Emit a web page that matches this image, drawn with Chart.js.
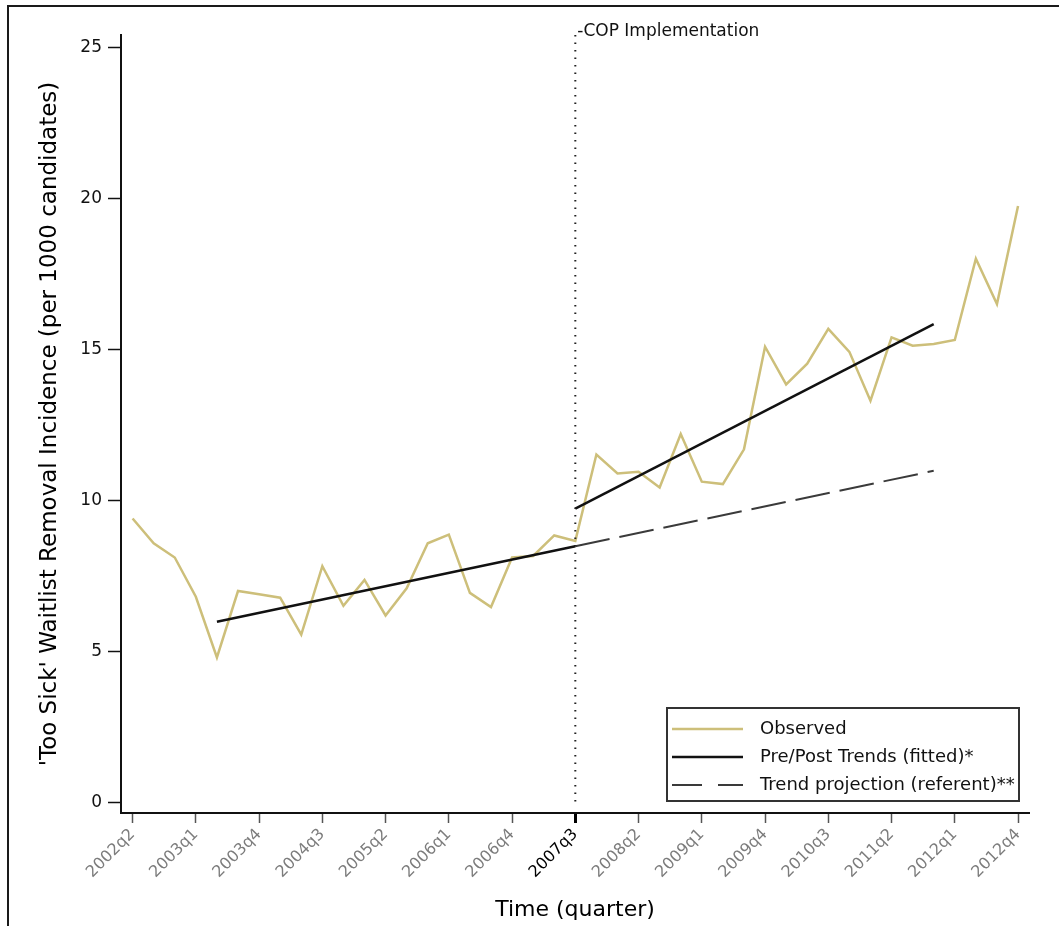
<!DOCTYPE html>
<html>
<head>
<meta charset="utf-8">
<script src="https://cdn.jsdelivr.net/npm/chart.js@4.4.1/dist/chart.umd.min.js"></script>
<style>
  html, body { margin: 0; padding: 0; background: #fff; }
  #wrap { position: relative; width: 1059px; height: 926px; overflow: hidden; }
  #frame { position: absolute; left: 7px; top: 5px; right: 0; bottom: 0;
           border-top: 2px solid #1a1a1a; border-left: 2px solid #1a1a1a; pointer-events: none; }
  canvas { position: absolute; left: 0; top: 0; }
</style>
</head>
<body>
<div id="wrap">
  <canvas id="c" width="1059" height="926"></canvas>
  <div id="frame"></div>
</div>
<script>
// Quarter categories (x index 0..42)
const quarters = [
  '2002q2','2002q3','2002q4','2003q1','2003q2','2003q3','2003q4','2004q1','2004q2','2004q3',
  '2004q4','2005q1','2005q2','2005q3','2005q4','2006q1','2006q2','2006q3','2006q4','2007q1',
  '2007q2','2007q3','2007q4','2008q1','2008q2','2008q3','2008q4','2009q1','2009q2','2009q3',
  '2009q4','2010q1','2010q2','2010q3','2010q4','2011q1','2011q2','2011q3','2011q4','2012q1',
  '2012q2','2012q3','2012q4'
];

// Observed 'too sick' removal incidence per 1000 candidates
const observed = [
  9.39, 8.57, 8.10, 6.80, 4.79, 6.99, 6.88, 6.77, 5.55, 7.81,
  6.50, 7.36, 6.18, 7.08, 8.57, 8.86, 6.93, 6.46, 8.10, 8.15,
  8.83, 8.65, 11.51, 10.88, 10.94, 10.42, 12.19, 10.61, 10.53, 11.68,
  15.08, 13.83, 14.52, 15.67, 14.91, 13.29, 15.39, 15.11, 15.17, 15.30,
  17.99, 16.49, 19.74
];

// Fitted segments (quarter index, value)
const preTrendQ = [4, 21];
const preTrend = [5.97, 8.47];
const postTrendQ = [21, 38];
const postTrend = [9.72, 15.83];
const projectionQ = [21, 38];
const projection = [8.47, 10.97];

// Axis ticks
const xTickIdx = [0, 3, 6, 9, 12, 15, 18, 21, 24, 27, 30, 33, 36, 39, 42];
const yTicks = [0, 5, 10, 15, 20, 25];
const copQuarter = '2007q3';

const FONT = "'DejaVu Sans', sans-serif";
Chart.defaults.font.family = FONT;

const pts = (qs, vs) => qs.map((q, i) => ({ x: q, y: vs[i] }));
const isCop = ctx => ctx.tick && quarters[ctx.tick.value] === copQuarter;

const overlay = {
  id: 'overlay',
  afterDatasetsDraw(chart) {
    const { ctx, chartArea, scales: { x } } = chart;
    const xp = x.getPixelForValue(quarters.indexOf(copQuarter));
    ctx.save();
    // policy marker
    ctx.strokeStyle = '#222';
    ctx.lineWidth = 2;
    ctx.setLineDash([1.5, 6]);
    ctx.beginPath();
    ctx.moveTo(xp, chartArea.top);
    ctx.lineTo(xp, chartArea.bottom - 6);
    ctx.stroke();
    ctx.setLineDash([]);
    ctx.font = '17px ' + FONT;
    ctx.fillStyle = '#111';
    ctx.textAlign = 'left';
    ctx.textBaseline = 'middle';
    ctx.fillText('-COP Implementation', xp + 2, 32);

    // legend box
    const bx = 667, by = 708, bw = 352, bh = 93;
    ctx.fillStyle = '#fff';
    ctx.fillRect(bx, by, bw, bh);
    ctx.strokeStyle = '#333';
    ctx.lineWidth = 2;
    ctx.strokeRect(bx, by, bw, bh);
    const seen = new Set();
    const items = chart.data.datasets.filter(d => !seen.has(d.label) && seen.add(d.label));
    ctx.font = '18px ' + FONT;
    items.forEach((d, i) => {
      const y = 729 + i * 28;
      ctx.strokeStyle = d.borderColor;
      ctx.lineWidth = d.borderWidth;
      ctx.setLineDash(d.borderDash && d.borderDash.length ? [30, 16] : []);
      ctx.beginPath();
      ctx.moveTo(672, y);
      ctx.lineTo(743, y);
      ctx.stroke();
      ctx.setLineDash([]);
      ctx.fillStyle = '#111';
      ctx.fillText(d.label, 760, y);
    });
    ctx.restore();
  }
};

new Chart(document.getElementById('c'), {
  type: 'line',
  data: {
    datasets: [
      { label: 'Observed', data: pts(quarters.map((q, i) => i), observed),
        borderColor: '#cdbf7a', borderWidth: 2.5, order: 3 },
      { label: 'Pre/Post Trends (fitted)*', data: pts(preTrendQ, preTrend),
        borderColor: '#111', borderWidth: 2.5, order: 1 },
      { label: 'Pre/Post Trends (fitted)*', data: pts(postTrendQ, postTrend),
        borderColor: '#111', borderWidth: 2.5, order: 1 },
      { label: 'Trend projection (referent)**', data: pts(projectionQ, projection),
        borderColor: '#3a3a3a', borderWidth: 2, borderDash: [35, 10], order: 2 }
    ]
  },
  options: {
    responsive: false,
    animation: false,
    events: [],
    layout: { padding: { top: 35, right: 30, bottom: 0, left: 0 } },
    elements: { point: { radius: 0 }, line: { tension: 0, fill: false } },
    plugins: { legend: { display: false }, tooltip: { enabled: false } },
    scales: {
      x: {
        type: 'linear',
        min: -0.55,
        max: 42.52,
        afterBuildTicks: s => { s.ticks = xTickIdx.map(v => ({ value: v })); },
        afterFit: s => { s.height = 113; },
        border: { display: true, color: '#111', width: 2 },
        grid: {
          drawOnChartArea: false,
          tickLength: 10,
          tickColor: ctx => isCop(ctx) ? '#000' : '#555',
          tickWidth: ctx => isCop(ctx) ? 3 : 1.5
        },
        ticks: {
          autoSkip: false,
          minRotation: 45,
          maxRotation: 45,
          padding: 2,
          font: { size: 16 },
          color: ctx => isCop(ctx) ? '#000' : '#7c7c7c',
          callback: v => quarters[v] ?? ''
        },
        title: {
          display: true,
          text: 'Time (quarter)',
          color: '#000',
          font: { size: 22 },
          padding: { top: 0, bottom: 3 }
        }
      },
      y: {
        type: 'linear',
        min: -0.36,
        max: 25.4,
        afterBuildTicks: s => { s.ticks = yTicks.map(v => ({ value: v })); },
        afterFit: s => { s.width = 121; },
        border: { display: true, color: '#111', width: 2 },
        grid: { drawOnChartArea: false, tickLength: 13, tickColor: '#111', tickWidth: 1.5 },
        ticks: { padding: 6, font: { size: 17 }, color: '#111' },
        title: {
          display: true,
          text: "'Too Sick' Waitlist Removal Incidence (per 1000 candidates)",
          color: '#000',
          font: { size: 23 },
          padding: { top: 36, bottom: 0 }
        }
      }
    }
  },
  plugins: [overlay]
});
</script>
</body>
</html>
